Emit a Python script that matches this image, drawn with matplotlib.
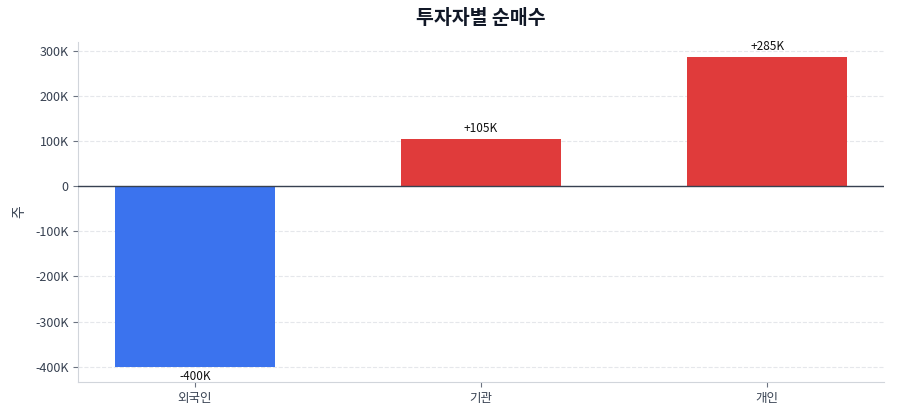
import matplotlib
matplotlib.use("Agg")
import matplotlib.pyplot as plt
from matplotlib.ticker import FuncFormatter

plt.rcParams['font.family'] = ['Noto Sans CJK KR', 'DejaVu Sans']
plt.rcParams['axes.unicode_minus'] = False

# 투자자별 순매수 데이터 (단위: 주)
investors = ['외국인', '기관', '개인']
net_buy = [-400000, 105000, 285000]

colors = ['#3B73EE' if v < 0 else '#E03B3B' for v in net_buy]

fig, ax = plt.subplots(figsize=(9, 4.2), dpi=100)
fig.subplots_adjust(left=0.087, right=0.982, top=0.90, bottom=0.09)

bars = ax.bar(investors, net_buy, width=0.56, color=colors, zorder=3)

for b, v in zip(bars, net_buy):
    label = f"+{v / 1000:.0f}K" if v > 0 else f"{v / 1000:.0f}K"
    if v >= 0:
        ax.annotate(label, (b.get_x() + b.get_width() / 2, v), xytext=(0, 3),
                    textcoords='offset points', ha='center', va='bottom',
                    fontsize=8.5, color='#111111')
    else:
        ax.annotate(label, (b.get_x() + b.get_width() / 2, v), xytext=(0, -2.5),
                    textcoords='offset points', ha='center', va='top',
                    fontsize=8.5, color='#111111')

ax.axhline(0, color='#374151', linewidth=1, zorder=4)
ax.yaxis.set_major_formatter(FuncFormatter(lambda x, _: '0' if x == 0 else f"{x / 1000:.0f}K"))

ax.set_title('투자자별 순매수', fontsize=14, fontweight='bold', color='#111827', pad=13)
ax.set_ylabel('주', fontsize=10, color='#374151', labelpad=6)

ax.grid(axis='y', linestyle='--', color='#e5e7eb', linewidth=0.8, zorder=0)
ax.spines['top'].set_visible(False)
ax.spines['right'].set_visible(False)
ax.spines['left'].set_color('#d1d5db')
ax.spines['bottom'].set_color('#d1d5db')
ax.tick_params(axis='both', labelsize=9, colors='#374151')
ax.tick_params(axis='both', color='#6b7280')

fig.savefig('out.png', dpi=100)
